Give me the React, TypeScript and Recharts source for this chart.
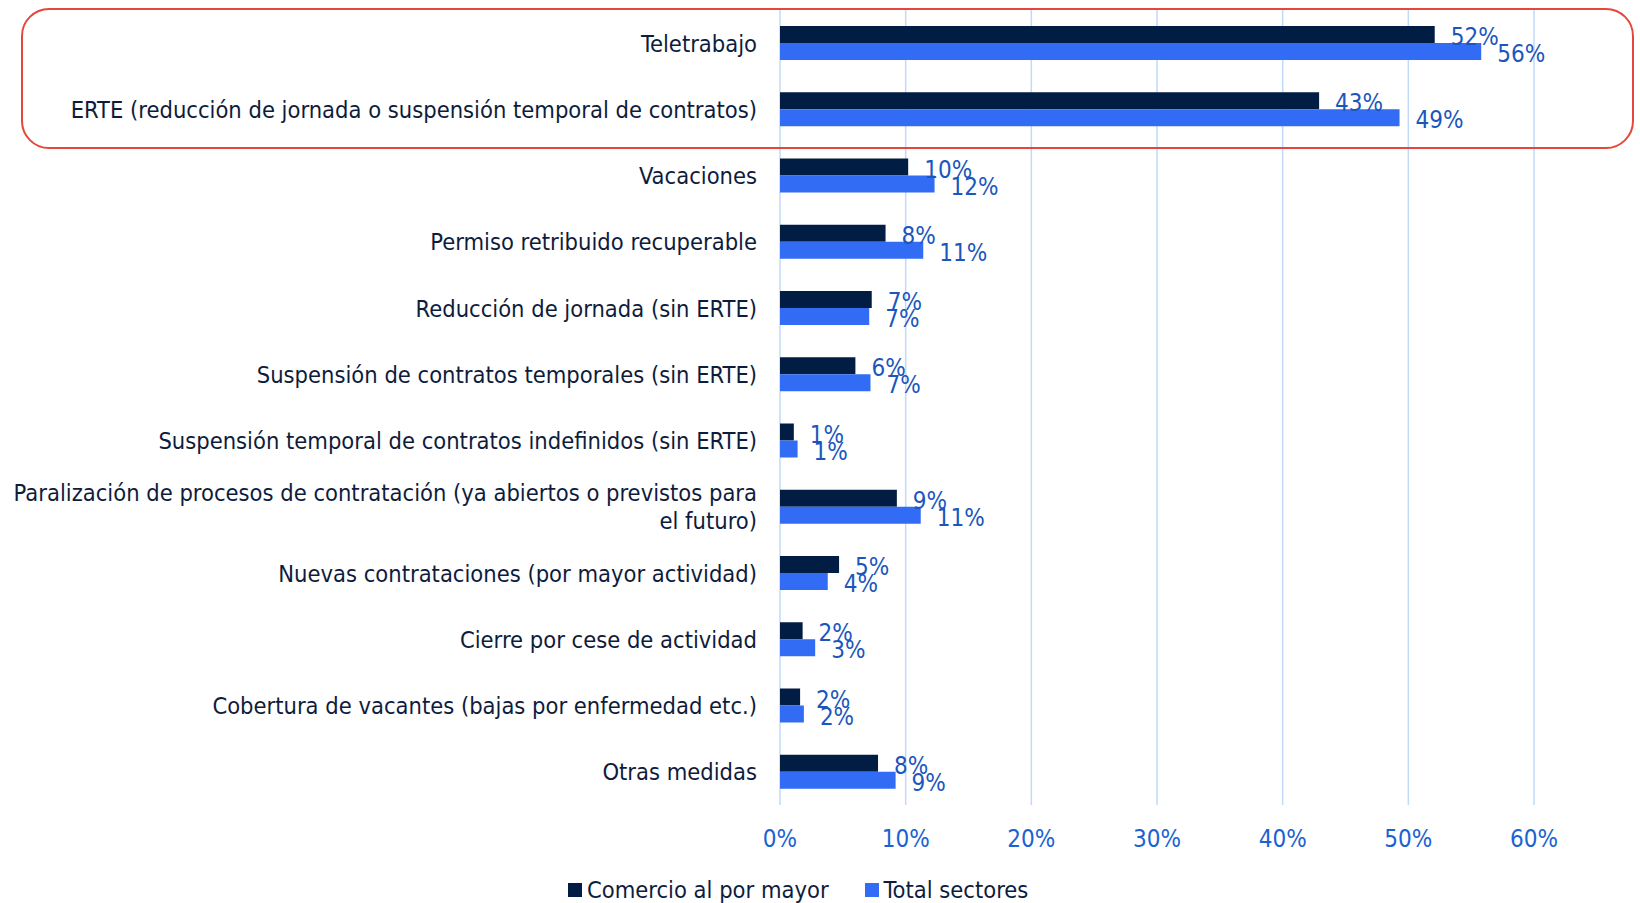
import {
  BarChart,
  Bar,
  XAxis,
  YAxis,
  CartesianGrid,
  Legend,
  LabelList,
} from "recharts";

const categories = [
  "Teletrabajo",
  "ERTE (reducción de jornada o suspensión temporal de contratos)",
  "Vacaciones",
  "Permiso retribuido recuperable",
  "Reducción de jornada (sin ERTE)",
  "Suspensión de contratos temporales (sin ERTE)",
  "Suspensión temporal de contratos indefinidos (sin ERTE)",
  "Paralización de procesos de contratación (ya abiertos o previstos para el futuro)",
  "Nuevas contrataciones (por mayor actividad)",
  "Cierre por cese de actividad",
  "Cobertura de vacantes (bajas por enfermedad etc.)",
  "Otras medidas",
];

const comercio = [52.1, 42.9, 10.2, 8.4, 7.3, 6.0, 1.1, 9.3, 4.7, 1.8, 1.6, 7.8];
const total = [55.8, 49.3, 12.3, 11.4, 7.1, 7.2, 1.4, 11.2, 3.8, 2.8, 1.9, 9.2];

const xTicks = [0, 10, 20, 30, 40, 50, 60];

const seriesNames = ["Comercio al por mayor", "Total sectores"];
const COLORS = ["#021d44", "#326cf5"];

const FONT = "'DejaVu Sans Condensed', 'DejaVu Sans', sans-serif";
const TEXT_DARK = "#0e1c3c";
const TEXT_BLUE = "#1a62d2";
const LABEL_BLUE = "#1b56bd";
const FS = 24;
const FS_CAT = 23.5;

const data = categories.map((name, i) => ({
  name,
  comercio: comercio[i],
  total: total[i],
}));

function wrap(text: string, max: number) {
  const words = text.split(" ");
  const lines: string[] = [];
  let cur = "";
  for (const w of words) {
    const next = cur ? cur + " " + w : w;
    if (next.length > max && cur) {
      lines.push(cur);
      cur = w;
    } else {
      cur = next;
    }
  }
  if (cur) lines.push(cur);
  return lines;
}

const CategoryTick = (props: any) => {
  const { x, y, payload } = props;
  const lines = wrap(payload.value, 70);
  const lh = 28;
  const y0 = y - ((lines.length - 1) * lh) / 2;
  return (
    <text
      x={x}
      y={y0}
      textAnchor="end"
      fill={TEXT_DARK}
      fontSize={FS_CAT}
      fontFamily={FONT}
      style={{ fontStretch: "condensed" }}
    >
      {lines.map((l, i) => (
        <tspan key={i} x={x} dy={i === 0 ? "0.36em" : lh}>
          {l}
        </tspan>
      ))}
    </text>
  );
};

const LegendContent = () => (
  <div
    style={{
      display: "flex",
      alignItems: "center",
      paddingLeft: 568,
      height: 43,
      paddingTop: 16,
      boxSizing: "border-box",
      fontFamily: FONT,
      fontStretch: "condensed",
      fontSize: FS_CAT,
      color: TEXT_DARK,
    }}
  >
    {seriesNames.map((n, i) => (
      <div
        key={n}
        style={{ display: "flex", alignItems: "center", marginRight: 36 }}
      >
        <span
          style={{
            width: 14,
            height: 14,
            background: COLORS[i],
            display: "inline-block",
            marginRight: 5,
          }}
        />
        <span>{n}</span>
      </div>
    ))}
  </div>
);

const fmt = (v: any) => `${Math.round(Number(v))}%`;

const ValueLabel = (props: any) => {
  const { x, y, width, height, value } = props;
  return (
    <text
      x={x + width + 16}
      y={y + height / 2 + 2}
      dy="0.36em"
      fill={LABEL_BLUE}
      fontSize={FS}
      fontFamily={FONT}
      style={{ fontStretch: "condensed" }}
    >
      {fmt(value)}
    </text>
  );
};

export default function App() {
  return (
    <div
      style={{
        position: "absolute",
        left: 0,
        top: 0,
        width: 1640,
        height: 903,
        background: "#fff",
        fontFamily: FONT,
      }}
    >
      <BarChart
        width={1640}
        height={903}
        data={data}
        layout="vertical"
        margin={{ top: 10, right: 106, left: 0, bottom: 0 }}
        barGap={0}
      >
        <CartesianGrid
          horizontal={false}
          stroke="#c2daf9"
          strokeWidth={1.5}
        />
        <XAxis
          type="number"
          domain={[0, 60]}
          ticks={xTicks}
          tickFormatter={(v) => `${v}%`}
          axisLine={false}
          tickLine={false}
          tickSize={0}
          tickMargin={25}
          height={55}
          tick={{
            fill: TEXT_BLUE,
            fontSize: FS,
            fontFamily: FONT,
            style: { fontStretch: "condensed" },
          }}
        />
        <YAxis
          type="category"
          dataKey="name"
          width={780}
          axisLine={false}
          tickLine={false}
          tickSize={0}
          tickMargin={23}
          interval={0}
          tick={<CategoryTick />}
        />
        <Legend
          verticalAlign="bottom"
          content={<LegendContent />}
          wrapperStyle={{ left: 0, width: 1640 }}
        />
        <Bar
          dataKey="comercio"
          name={seriesNames[0]}
          fill={COLORS[0]}
          barSize={17}
          isAnimationActive={false}
        >
          <LabelList dataKey="comercio" content={<ValueLabel />} />
        </Bar>
        <Bar
          dataKey="total"
          name={seriesNames[1]}
          fill={COLORS[1]}
          barSize={17}
          isAnimationActive={false}
        >
          <LabelList dataKey="total" content={<ValueLabel />} />
        </Bar>
      </BarChart>
      <div
        style={{
          position: "absolute",
          left: 21,
          top: 8,
          width: 1613,
          height: 141,
          border: "2.5px solid #e5483b",
          borderRadius: 28,
          boxSizing: "border-box",
          pointerEvents: "none",
        }}
      />
    </div>
  );
}
